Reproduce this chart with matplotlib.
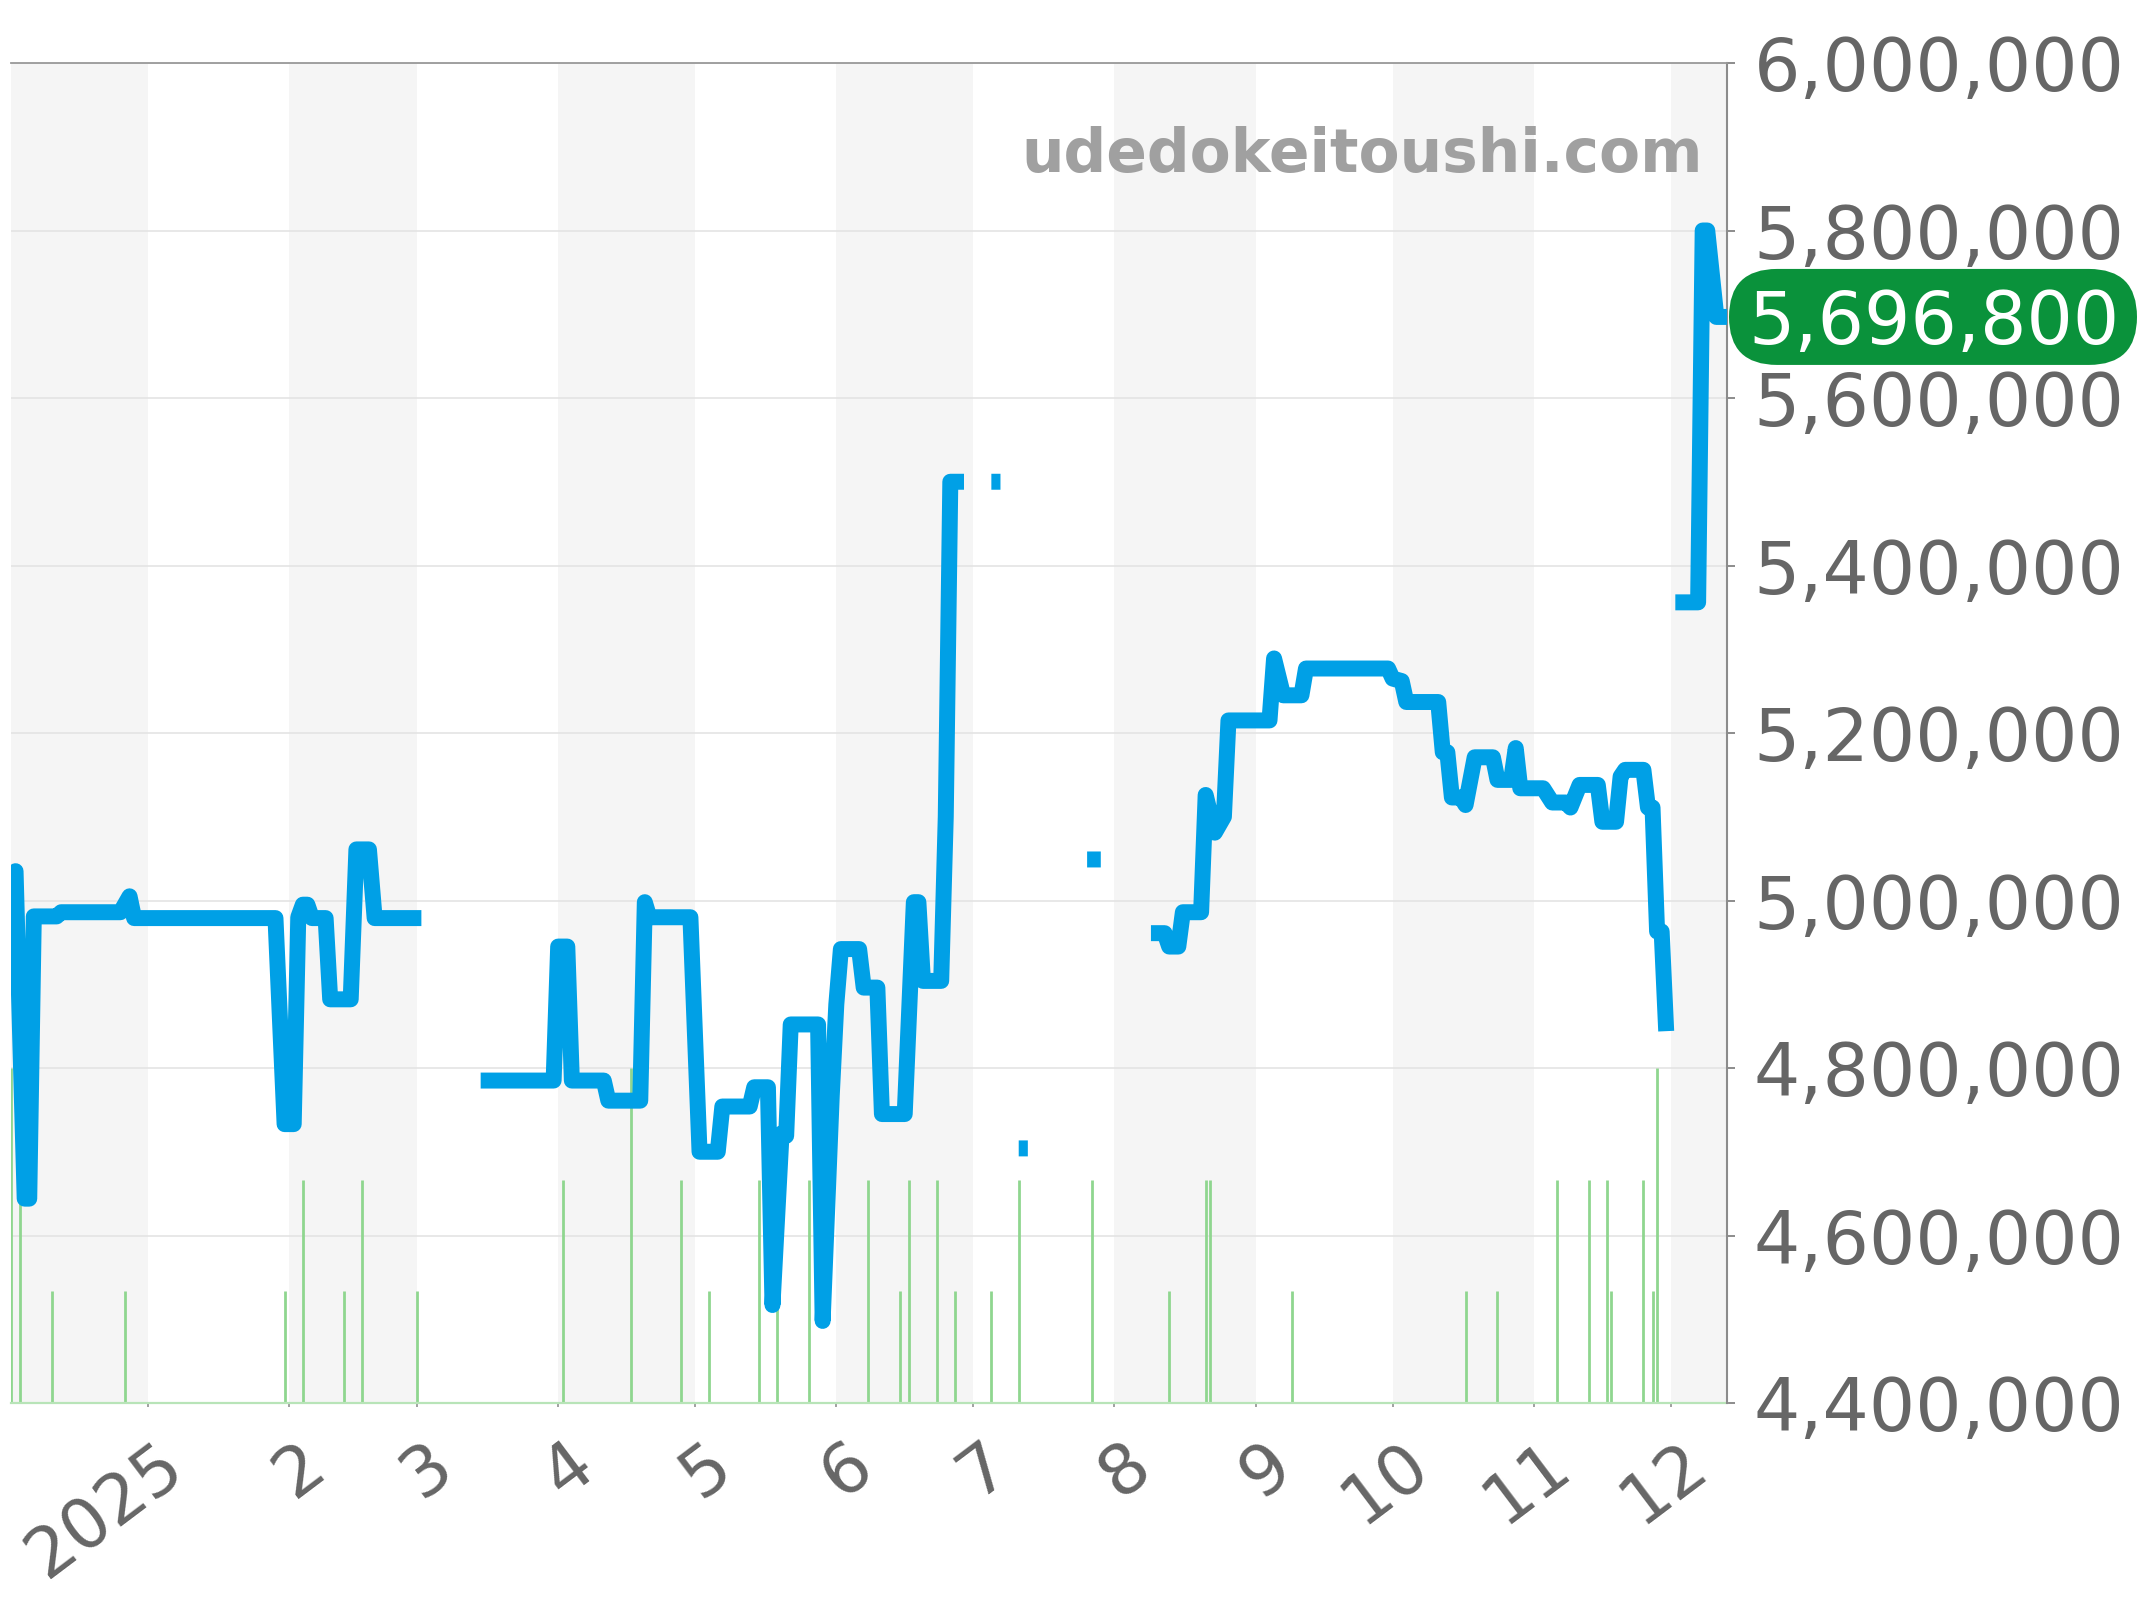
import numpy as np
import matplotlib
matplotlib.use("Agg")
import matplotlib.pyplot as plt
import matplotlib.dates as mdates
from matplotlib.patches import FancyBboxPatch
from matplotlib.transforms import IdentityTransform, ScaledTranslation
from matplotlib.ticker import FixedLocator, FuncFormatter
import pandas as pd
import datetime as dt

nan = np.nan

# ---------------- data ----------------
price_dates = [
    "2024-12-02", "2024-12-03", "2024-12-05", "2024-12-06", "2024-12-07", "2024-12-12",
    "2024-12-13", "2024-12-26", "2024-12-28", "2024-12-29", "2025-01-29", "2025-01-31",
    "2025-02-02", "2025-02-03", "2025-02-04", "2025-02-05", "2025-02-06", "2025-02-09",
    "2025-02-10", "2025-02-14T12:00", "2025-02-15T18:00", "2025-02-18T12:00", "2025-02-19T18:00", "2025-03-02",
    "2025-03-08",
    "2025-03-15", "2025-03-31", "2025-04-01", "2025-04-03", "2025-04-04", "2025-04-11",
    "2025-04-12", "2025-04-19", "2025-04-20", "2025-04-21", "2025-04-30", "2025-05-02",
    "2025-05-06", "2025-05-07", "2025-05-13", "2025-05-14", "2025-05-17", "2025-05-18",
    "2025-05-20", "2025-05-21", "2025-05-22", "2025-05-28", "2025-05-29", "2025-05-31",
    "2025-06-01", "2025-06-02", "2025-06-06", "2025-06-07", "2025-06-10", "2025-06-11",
    "2025-06-16", "2025-06-18", "2025-06-19", "2025-06-20", "2025-06-24", "2025-06-25", "2025-06-26",
    "2025-06-29",
    "2025-07-02",
    "2025-07-05", "2025-07-07",
    "2025-07-09",
    "2025-07-11", "2025-07-13",
    "2025-07-20",
    "2025-07-26", "2025-07-29",
    "2025-08-03",
    "2025-08-09", "2025-08-12", "2025-08-13", "2025-08-15", "2025-08-16", "2025-08-20",
    "2025-08-21", "2025-08-23", "2025-08-25", "2025-08-26", "2025-09-04", "2025-09-05",
    "2025-09-07", "2025-09-11", "2025-09-12", "2025-09-30", "2025-10-01", "2025-10-03",
    "2025-10-04", "2025-10-11", "2025-10-12", "2025-10-13", "2025-10-14", "2025-10-16",
    "2025-10-17", "2025-10-19", "2025-10-23", "2025-10-24", "2025-10-27", "2025-10-28",
    "2025-10-29", "2025-11-03", "2025-11-05", "2025-11-08", "2025-11-09", "2025-11-11",
    "2025-11-15", "2025-11-16", "2025-11-19", "2025-11-20", "2025-11-21", "2025-11-25",
    "2025-11-26", "2025-11-27", "2025-11-28", "2025-11-29", "2025-11-30",
    "2025-12-01",
    "2025-12-02", "2025-12-07", "2025-12-08", "2025-12-09", "2025-12-11", "2025-12-14",
]
price_values = [
    5025000, 5035000, 4644000, 4644000, 4981000, 4981000,
    4986000, 4986000, 5005000, 4979000, 4979000, 4733000,
    4733000, 4980000, 4995000, 4995000, 4979000, 4979000,
    4882000, 4882000, 5061000, 5061000, 4979000, 4979000,
    nan,
    4785000, 4785000, 4945000, 4945000, 4785000, 4785000,
    4761000, 4761000, 4998000, 4980000, 4980000, 4700000,
    4700000, 4754000, 4754000, 4777000, 4777000, 4517000,
    4722000, 4719000, 4852000, 4852000, 4498000, 4767000,
    4876000, 4942000, 4942000, 4896000, 4896000, 4745000,
    4745000, 4998000, 4998000, 4904000, 4904000, 5100000, 5500000,
    5500000,
    nan,
    5500000, 5500000,
    nan,
    4704000, 4704000,
    nan,
    5049000, 5049000,
    nan,
    4961000, 4961000, 4945000, 4945000, 4986000, 4986000,
    5126000, 5081000, 5100000, 5215000, 5215000, 5289000,
    5245000, 5245000, 5277000, 5277000, 5265000, 5262000,
    5237000, 5237000, 5177000, 5177000, 5123000, 5123000,
    5114000, 5171000, 5171000, 5144000, 5144000, 5182000,
    5134000, 5134000, 5117000, 5117000, 5111000, 5138000,
    5138000, 5094000, 5094000, 5148000, 5156000, 5156000,
    5111000, 5111000, 4963000, 4963000, 4844000,
    nan,
    5356000, 5356000, 5800000, 5800000, 5696800, 5696800,
]

volume_dates = [
    "2024-12-02", "2024-12-04", "2024-12-11", "2024-12-27", "2025-01-31", "2025-02-04",
    "2025-02-13", "2025-02-17", "2025-03-01", "2025-04-02", "2025-04-17", "2025-04-28",
    "2025-05-04", "2025-05-15", "2025-05-19", "2025-05-26", "2025-06-08", "2025-06-15",
    "2025-06-17", "2025-06-23", "2025-06-27", "2025-07-05", "2025-07-11", "2025-07-27",
    "2025-08-13", "2025-08-21", "2025-08-22", "2025-09-09", "2025-10-17", "2025-10-24",
    "2025-11-06", "2025-11-13", "2025-11-17", "2025-11-18", "2025-11-25", "2025-11-27",
    "2025-11-28",
]
volume_counts = [
    3, 2, 1, 1, 1, 2,
    1, 2, 1, 2, 3, 2,
    1, 2, 1, 2, 2, 1,
    2, 2, 1, 1, 2, 2,
    1, 2, 2, 1, 1, 1,
    2, 2, 2, 1, 2, 1,
    3,
]

month_tick_dates = ["2025-01-01", "2025-02-01", "2025-03-01", "2025-04-01", "2025-05-01",
                    "2025-06-01", "2025-07-01", "2025-08-01", "2025-09-01", "2025-10-01",
                    "2025-11-01", "2025-12-01"]
month_tick_labels = ["2025", "2", "3", "4", "5", "6", "7", "8", "9", "10", "11", "12"]
y_tick_values = [4400000, 4600000, 4800000, 5000000, 5200000, 5400000, 5600000, 5800000, 6000000]
current_price = 5696800
watermark_text = "udedokeitoushi.com"

# ---------------- figure ----------------
W, H, DPI = 2144, 1600, 100
fig = plt.figure(figsize=(W / DPI, H / DPI), dpi=DPI)
fig.patch.set_facecolor("white")

L, R, T, B = 11, 1727, 63, 1403
ax = fig.add_axes([L / W, (H - B) / H, (R - L) / W, (B - T) / H])
ax.set_facecolor("white")

x_start = dt.datetime(2024, 12, 2)
x_end = dt.datetime(2025, 12, 13, 8)
ax.set_xlim(x_start, x_end)
ax.set_ylim(4400000, 6000000)

# alternating month background bands
band_edges = [x_start] + [dt.datetime(2025, m, 1) for m in range(1, 13)] + [x_end]
for i in range(0, len(band_edges) - 1, 2):
    ax.axvspan(band_edges[i], band_edges[i + 1], color="#f5f5f5", lw=0, zorder=0)

# grid
ax.set_yticks(y_tick_values)
ax.yaxis.grid(True, color="#e2e2e2", lw=1.1, zorder=1)
ax.xaxis.grid(False)
ax.set_axisbelow(True)

# volume bars (axes-fraction heights, 12 units = full height)
vd = pd.to_datetime(volume_dates, format="ISO8601").to_pydatetime()
vc = np.array(volume_counts, dtype=float) / 12.0
ax.vlines(vd, 0, vc, transform=ax.get_xaxis_transform(), color="#8fd68f", lw=2.0, zorder=2)
ax.plot([x_start, x_end], [0, 0], transform=ax.get_xaxis_transform(), color="#b8e4b8",
        lw=1.6, zorder=2, clip_on=False)

# price line
pdates = pd.to_datetime(price_dates, format="ISO8601").to_pydatetime()
ax.plot(pdates, price_values, color="#00a0e6", lw=11.5, solid_joinstyle="round",
        solid_capstyle="butt", zorder=3)

# spines
for s in ["left", "bottom"]:
    ax.spines[s].set_visible(False)
ax.spines["top"].set_color("#999999")
ax.spines["top"].set_linewidth(1.3)
ax.spines["right"].set_color("#8c8c8c")
ax.spines["right"].set_linewidth(1.5)

# y axis on right
ax.yaxis.tick_right()
ax.yaxis.set_major_formatter(FuncFormatter(lambda v, p: f"{int(round(v)):,}"))
ax.tick_params(axis="y", which="both", left=False, right=True, length=6, width=1.4,
               color="#8c8c8c", labelsize=52.5, labelcolor="#666666", pad=13)

# x axis ticks
ax.xaxis.set_major_locator(FixedLocator(mdates.date2num(
    pd.to_datetime(month_tick_dates, format="ISO8601").to_pydatetime())))
ax.set_xticklabels(month_tick_labels)
ax.tick_params(axis="x", which="both", length=3, width=1.3, color="#999999",
               labelsize=50, labelcolor="#666666", pad=16.4)
label_shift = ScaledTranslation(8 / DPI, 0, fig.dpi_scale_trans)
for lab in ax.get_xticklabels():
    lab.set_rotation(37)
    lab.set_ha("right")
    lab.set_va("top")
    lab.set_rotation_mode("anchor")
    lab.set_transform(lab.get_transform() + label_shift)

# watermark
ax.text(0.986, 0.919, watermark_text, transform=ax.transAxes, ha="right", va="baseline",
        fontsize=43, fontweight="bold", color="#a0a0a0", zorder=4)

# current price badge
ypix = ax.transData.transform((mdates.date2num(x_end), current_price))[1]
bw, bh = 408, 96
bx = 1729
badge = FancyBboxPatch((bx, ypix - bh / 2), bw, bh, boxstyle=f"round,pad=0,rounding_size={bh/2}",
                       transform=IdentityTransform(), fc="#0a923b", ec="none", zorder=5)
fig.add_artist(badge)
fs_badge = 52.5
em = fs_badge * DPI / 72
fig.text(bx + bw / 2 + 1, ypix - 0.3645 * em, f"{current_price:,}", transform=IdentityTransform(),
         ha="center", va="baseline", fontsize=fs_badge, color="white", zorder=6)

fig.savefig("out.png", dpi=DPI, facecolor="white")
